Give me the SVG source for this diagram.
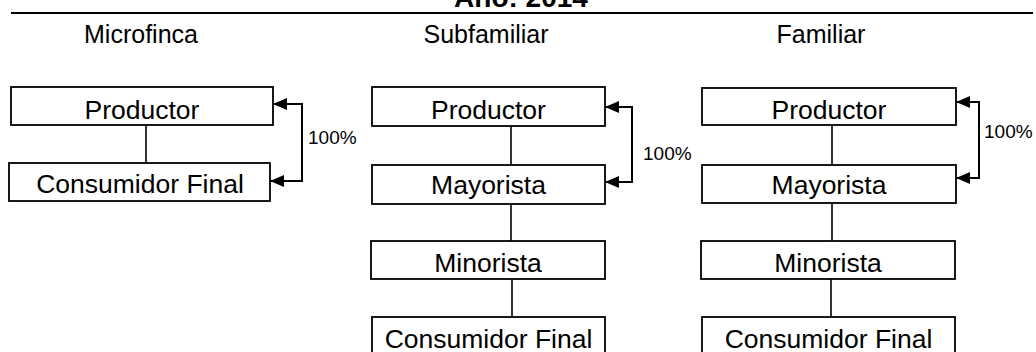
<svg xmlns="http://www.w3.org/2000/svg" width="1036" height="352" viewBox="0 0 1036 352">
<style>
.box{fill:#fff;stroke:#000;stroke-width:1.8}
.t{font-family:"Liberation Sans",Arial,sans-serif;font-size:26.5px;text-anchor:middle;fill:#000}
.h{font-family:"Liberation Sans",Arial,sans-serif;font-size:25px;text-anchor:middle;fill:#000}
.p{font-family:"Liberation Sans",Arial,sans-serif;font-size:19px;fill:#000}
.ln{fill:none;stroke:#000;stroke-width:1.6}
.ar{fill:none;stroke:#000;stroke-width:2;marker-start:url(#ah);marker-end:url(#ah)}
</style>
<defs>
<marker id="ah" viewBox="0 0 14 12" refX="14" refY="6" markerWidth="14" markerHeight="12" markerUnits="userSpaceOnUse" orient="auto-start-reverse">
<path d="M0,0 L14,6 L0,12 Z" fill="#000"/>
</marker>
</defs>
<rect width="1036" height="352" fill="#fff"/>
<text x="521" y="7" font-family="'Liberation Sans',Arial,sans-serif" font-size="28" font-weight="bold" text-anchor="middle">Año: 2014</text>
<line x1="11" y1="13" x2="1033" y2="13" stroke="#000" stroke-width="2"/>
<text class="h" x="141" y="43">Microfinca</text>
<text class="h" x="486" y="43">Subfamiliar</text>
<text class="h" x="821" y="43">Familiar</text>
<g id="connectors">
<line class="ln" x1="146" y1="125" x2="146" y2="163"/>
<line class="ln" x1="511" y1="126" x2="511" y2="165"/>
<line class="ln" x1="511" y1="204" x2="511" y2="241"/>
<line class="ln" x1="512" y1="279" x2="512" y2="317"/>
<line class="ln" x1="832" y1="125" x2="832" y2="165"/>
<line class="ln" x1="832" y1="203" x2="832" y2="241"/>
<line class="ln" x1="831" y1="279" x2="831" y2="317"/>
<path class="ar" d="M273,104 H302 V181 H270"/>
<path class="ar" d="M605,107 H632 V182 H605"/>
<path class="ar" d="M956,102 H979 V178 H956"/>
<text class="p" x="308" y="144">100%</text>
<text class="p" x="643" y="160">100%</text>
<text class="p" x="984" y="138">100%</text>
</g>
<g id="m-productor"><rect class="box" x="11" y="87" width="262" height="38"/><text class="t" x="142" y="119">Productor</text></g>
<g id="m-consumidor"><rect class="box" x="9" y="163" width="261" height="38"/><text class="t" x="140" y="193">Consumidor Final</text></g>
<g id="s-productor"><rect class="box" x="372" y="87" width="233" height="39"/><text class="t" x="488.5" y="119">Productor</text></g>
<g id="s-mayorista"><rect class="box" x="372" y="165" width="233" height="39"/><text class="t" x="488.5" y="194">Mayorista</text></g>
<g id="s-minorista"><rect class="box" x="371" y="241" width="234" height="38"/><text class="t" x="488" y="272">Minorista</text></g>
<g id="s-consumidor"><rect class="box" x="372" y="317" width="233" height="40"/><text class="t" x="488.5" y="348">Consumidor Final</text></g>
<g id="f-productor"><rect class="box" x="702" y="88" width="254" height="37"/><text class="t" x="829" y="119">Productor</text></g>
<g id="f-mayorista"><rect class="box" x="702" y="165" width="254" height="38"/><text class="t" x="829" y="194">Mayorista</text></g>
<g id="f-minorista"><rect class="box" x="701" y="241" width="254" height="38"/><text class="t" x="828" y="272">Minorista</text></g>
<g id="f-consumidor"><rect class="box" x="702" y="317" width="253" height="40"/><text class="t" x="828.5" y="348">Consumidor Final</text></g>
</svg>
